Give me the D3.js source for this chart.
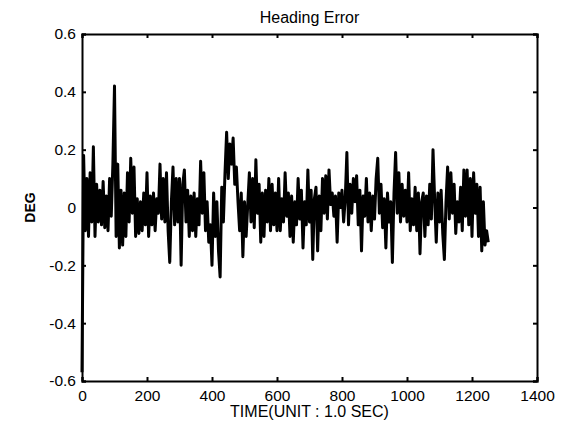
<!DOCTYPE html>
<html><head><meta charset="utf-8">
<script src="https://cdn.jsdelivr.net/npm/d3@7"></script>
<style>body{margin:0;background:#fff}svg{display:block}text{font-family:"Liberation Sans",Arial,sans-serif;fill:#000}</style>
</head><body><div id="chart"></div>
<script>
const title = "Heading Error";
const xLabel = "TIME(UNIT : 1.0 SEC)";
const yLabel = "DEG";
const xTicks = [0, 200, 400, 600, 800, 1000, 1200, 1400];
const yTicks = [-0.6, -0.4, -0.2, 0, 0.2, 0.4, 0.6];
const timeStep = 5; // seconds between samples
const headingError = [
 -0.57, 0.18, -0.08, 0.1, -0.1, 0.12, -0.05, 0.21, -0.1, 0.08,
 -0.05, 0.06, -0.06, 0.09, -0.07, 0.04, -0.08, 0.1, -0.03, 0.15,
 0.42, -0.1, 0.15, -0.14, 0.06, -0.13, 0.05, -0.1, 0.12, -0.05,
 0.17, -0.02, 0.14, -0.1, 0.03, -0.09, 0.02, -0.08, 0.05, -0.06,
 0.12, -0.1, 0.04, -0.06, 0.05, -0.08, 0.03, -0.02, 0.15, -0.04,
 0.1, -0.05, 0.12, -0.08, -0.19, 0.02, 0.14, -0.06, 0.1, -0.05,
 0.1, -0.2, 0.08, 0.13, -0.05, 0.06, -0.1, 0.04, -0.08, 0.05,
 -0.1, 0.03, -0.06, 0.16, -0.02, 0.12, -0.08, 0.02, -0.12, -0.06,
 -0.2, 0.05, -0.1, 0.02, -0.15, -0.24, 0.07, -0.05, 0.12, 0.26,
 0.1, 0.22, 0.15, 0.24, 0.08, 0.14, 0.02, -0.08, 0.05, -0.17,
 0.02, -0.1, 0.01, 0.12, -0.05, 0.1, -0.07, 0.165, -0.02, 0.08,
 -0.12, 0.05, -0.1, 0.06, -0.05, 0.1, -0.08, 0.08, -0.06, 0.05,
 -0.08, 0.1, -0.08, 0.03, -0.05, 0.12, -0.03, 0.05, -0.1, 0.04,
 -0.12, 0.02, -0.06, 0.1, -0.04, 0.06, -0.14, 0.02, -0.06, 0.13,
 -0.05, 0.06, -0.18, 0.03, 0.07, -0.15, 0.04, -0.08, 0.1, -0.02,
 0.11, -0.04, 0.13, 0.01, 0.05, -0.03, 0.04, -0.12, 0.05, 0.0,
 0.06, -0.05, 0.03, 0.19, -0.06, 0.08, -0.02, 0.1, 0.02, 0.11,
 -0.06, 0.06, -0.15, 0.04, -0.03, 0.1, -0.05, 0.05, -0.08, 0.04,
 -0.04, 0.1, 0.17, -0.02, 0.08, -0.07, 0.03, -0.14, 0.05, -0.05,
 0.02, -0.19, 0.05, 0.19, -0.02, 0.12, -0.05, 0.08, -0.03, 0.06,
 -0.05, 0.12, -0.08, 0.03, -0.06, 0.07, -0.08, 0.05, -0.16, 0.02,
 0.05, -0.1, 0.04, -0.06, 0.08, -0.04, 0.2, 0.03, -0.12, 0.05,
 -0.05, 0.06, -0.09, -0.18, 0.02, 0.14, -0.04, 0.12, -0.02, 0.08,
 -0.09, 0.02, -0.05, 0.07, -0.08, 0.13, -0.03, 0.13, -0.06, 0.1,
 -0.1, 0.12, -0.02, 0.08, -0.1, 0.07, -0.15, 0.02, -0.13, -0.08,
 -0.12
];

const W = 570, H = 425;
const m = {left: 82, right: 33, top: 34, bottom: 44};
const svg = d3.select("#chart").append("svg").attr("width", W).attr("height", H);
const x = d3.scaleLinear().domain([0, 1400]).range([m.left, W - m.right]);
const y = d3.scaleLinear().domain([-0.6, 0.6]).range([H - m.bottom, m.top]);
const fmtY = d => d === 0 ? "0" : d3.format(".1f")(d).replace("\u2212", "-");

// data line
const line = d3.line().x((d, i) => x(i * timeStep)).y(d => y(d));
svg.append("path").datum(headingError).attr("d", line)
  .attr("fill", "none").attr("stroke", "#000").attr("stroke-width", 3).attr("stroke-linejoin", "round");

// axes with inward ticks
const fs = "15.5px";
const gBottom = svg.append("g").attr("transform", `translate(0,${H - m.bottom})`)
  .call(d3.axisBottom(x).tickValues(xTicks).tickSize(-4).tickPadding(9).tickFormat(d3.format("d")));
const gTop = svg.append("g").attr("transform", `translate(0,${m.top})`)
  .call(d3.axisTop(x).tickValues(xTicks).tickSize(-4).tickFormat(""));
const gLeft = svg.append("g").attr("transform", `translate(${m.left},0)`)
  .call(d3.axisLeft(y).tickValues(yTicks).tickSize(-4).tickPadding(6).tickFormat(fmtY));
const gRight = svg.append("g").attr("transform", `translate(${W - m.right},0)`)
  .call(d3.axisRight(y).tickValues(yTicks).tickSize(-4).tickFormat(""));
[gBottom, gTop, gLeft, gRight].forEach(g => {
  g.select(".domain").attr("stroke", "#000").attr("stroke-width", 2);
  g.selectAll(".tick line").attr("stroke", "#000").attr("stroke-width", 2);
  g.selectAll("text").style("font-size", fs).style("font-family", '"Liberation Sans",Arial,sans-serif');
});

svg.append("text").attr("x", (m.left + W - m.right) / 2).attr("y", 23)
  .attr("text-anchor", "middle").style("font-size", "16px").text(title);
svg.append("text").attr("x", (m.left + W - m.right) / 2).attr("y", 417)
  .attr("text-anchor", "middle").style("font-size", "16px").text(xLabel);
svg.append("text").attr("transform", `translate(35,${(m.top + H - m.bottom) / 2}) rotate(-90)`)
  .attr("text-anchor", "middle").style("font-size", "14px").style("font-weight", "bold").text(yLabel);
</script></body></html>
